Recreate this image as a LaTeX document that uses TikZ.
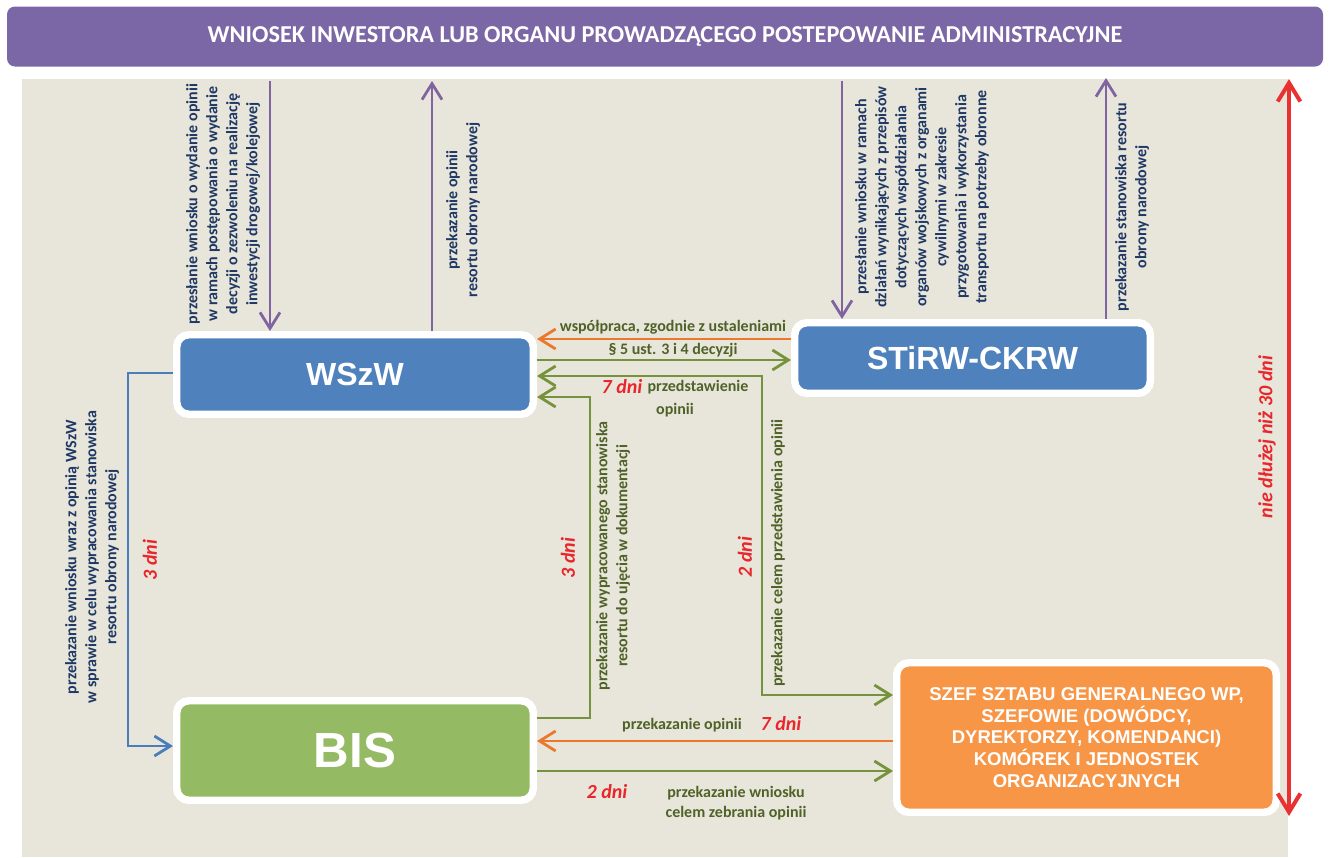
\documentclass[tikz,border=0pt]{standalone}
\usepackage{fontspec}
\setmainfont{Carlito}
\newfontfamily\arialfont{Liberation Sans}
\usetikzlibrary{arrows.meta}
\definecolor{banner}{RGB}{123,103,165}
\definecolor{panel}{RGB}{232,230,219}
\definecolor{boxblue}{RGB}{79,129,189}
\definecolor{boxgreen}{RGB}{148,187,100}
\definecolor{boxorange}{RGB}{247,150,70}
\definecolor{arrpurple}{RGB}{128,100,162}
\definecolor{arrorange}{RGB}{235,120,45}
\definecolor{arrgreen}{RGB}{118,146,60}
\definecolor{arrblue}{RGB}{74,126,187}
\definecolor{arrred}{RGB}{232,50,50}
\definecolor{txtnavy}{RGB}{31,56,100}
\definecolor{txtgreen}{RGB}{79,98,40}
\definecolor{txtred}{RGB}{232,38,43}
\begin{document}
\begin{tikzpicture}[x=0.75pt,y=-0.75pt,
  box/.style={draw=white, line width=5.6pt, rounded corners=9pt, text=white, inner sep=0pt, font=\arialfont\bfseries},
  tip/.style={-{Straight Barb[length=12pt,width=15pt]}},
  conn/.style={line width=2.1pt, tip},
  lab/.style={font=\bfseries\fontsize{12}{15}\selectfont, align=center, inner sep=0pt},
  navylab/.style={lab, text=txtnavy},
  greenlab/.style={lab, text=txtgreen},
  day/.style={font=\bfseries\itshape\fontsize{15}{18}\selectfont, text=txtred, inner sep=0pt}]
\useasboundingbox (0,0) rectangle (1330,857);
\fill[white] (0,0) rectangle (1330,857);
% panel
\fill[panel] (22,79) rectangle (1288,857);
% banner
\node[fill=banner, rounded corners=6pt, minimum width=1316*0.75pt, minimum height=60*0.75pt, inner sep=0pt,
  text=white, font=\bfseries\fontsize{18.2}{21}\selectfont] (banner) at (665,36.5)
  {WNIOSEK INWESTORA LUB ORGANU PROWADZĄCEGO POSTEPOWANIE ADMINISTRACYJNE};
% boxes
\node[box, fill=boxblue, minimum width=356.5*0.75pt, minimum height=79.5*0.75pt, font=\arialfont\bfseries\fontsize{24}{28}\selectfont] (wszw) at (355,374.5) {WSzW};
\node[box, fill=boxblue, minimum width=355.5*0.75pt, minimum height=70.5*0.75pt, font=\arialfont\bfseries\fontsize{24}{28}\selectfont] (stirw) at (972.5,358) {STiRW-CKRW};
\node[box, fill=boxgreen, minimum width=356.5*0.75pt, minimum height=99.5*0.75pt, font=\arialfont\bfseries\fontsize{37}{42}\selectfont] (bis) at (355,750.5) {BIS};
\node[box, fill=boxorange, minimum width=379.5*0.75pt, minimum height=149.5*0.75pt, align=center, font=\arialfont\bfseries\fontsize{13.9}{16.3}\selectfont] (szef) at (1086.5,737.5)
  {SZEF SZTABU GENERALNEGO WP,\\SZEFOWIE (DOWÓDCY,\\DYREKTORZY, KOMENDANCI)\\KOMÓREK I JEDNOSTEK\\ORGANIZACYJNYCH};
% free ends at the top
\coordinate (pa) at (270,81);
\coordinate (pb) at (432,81);
\coordinate (pc) at (842,81);
\coordinate (pd) at (1106,78);
% purple arrows
\draw[conn, arrpurple] (pa) -- (pa |- wszw.north);
\draw[conn, arrpurple] (pb |- wszw.north) -- (pb);
\draw[conn, arrpurple] (pc) -- (pc |- stirw.north);
\draw[conn, arrpurple] (pd |- stirw.north) -- (pd);
% between WSzW and STiRW
\draw[conn, arrorange] (stirw.west |- 0,339) -- (wszw.east |- 0,339);
\draw[conn, arrgreen] (wszw.east |- 0,360) -- (stirw.west |- 0,360);
% double headed green from WSzW to SZEF
\draw[line width=2.1pt, arrgreen, {Straight Barb[length=12pt,width=15pt]}-{Straight Barb[length=12pt,width=15pt]}]
  (wszw.east |- 0,376) -- (762,376) -- (762,695) -- (szef.west |- 0,695);
% BIS to WSzW
\draw[conn, arrgreen] (bis.east |- 0,718) -| (590,397) -- (wszw.east |- 0,397);
% WSzW to BIS (blue)
\draw[conn, arrblue] (wszw.west |- 0,373) -| (128,746) -- (bis.west |- 0,746);
% SZEF to BIS
\draw[conn, arrorange] (szef.west |- 0,741) -- (bis.east |- 0,741);
\draw[conn, arrgreen] (bis.east |- 0,771) -- (szef.west |- 0,771);
% red 30 days
\coordinate (ra) at (1289,79);
\coordinate (rb) at (1289,816);
\draw[line width=3pt, arrred, {Straight Barb[length=14pt,width=17pt]}-{Straight Barb[length=14pt,width=17pt]}] (ra) -- (rb);
\node[day, rotate=90] (t30) at (1267,437) {nie dłużej niż 30 dni};
% labels on the purple arrows
\node[navylab, rotate=90] (l1) at (223,204) {przesłanie wniosku o wydanie opinii\\w ramach postępowania o wydanie\\decyzji o zezwoleniu na realizację\\inwestycji drogowej/kolejowej};
\node[navylab, rotate=90] (l2) at (463,210) {przekazanie opinii\\resortu obrony narodowej};
\node[navylab, rotate=90] (l3) at (922,197) {przesłanie wniosku w ramach\\działań wynikających z przepisów\\dotyczących współdziałania\\organów wojskowych z organami\\cywilnymi w zakresie\\przygotowania i wykorzystania\\transportu na potrzeby obronne};
\node[navylab, rotate=90] (l4) at (1132,207) {przekazanie stanowiska resortu\\obrony narodowej};
% middle labels
\node[greenlab] (l5) at (673,327) {współpraca, zgodnie z ustaleniami};
\node[greenlab] (l6) at (673,350) {§ 5 ust. 3 i 4 decyzji};
\node[day] (d7a) at (622,387) {7 dni};
\node[greenlab] (l7) at (698,387) {przedstawienie};
\node[greenlab] (l8) at (675,410) {opinii};
\node[greenlab, rotate=90] (l9) at (613,556) {przekazanie wypracowanego stanowiska\\resortu do ujęcia w dokumentacji};
\node[day, rotate=90] (d3b) at (568,558) {3 dni};
\node[greenlab, rotate=90] (l10) at (778,553) {przekazanie celem przedstawienia opinii};
\node[day, rotate=90] (d2a) at (745,557) {2 dni};
% left
\node[navylab, rotate=90] (l11) at (92,557) {przekazanie wniosku wraz z opinią WSzW\\w sprawie w celu wypracowania stanowiska\\resortu obrony narodowej};
\node[day, rotate=90] (d3a) at (150,560) {3 dni};
% bottom
\node[greenlab] (l12) at (682,725) {przekazanie opinii};
\node[day] (d7b) at (781,724) {7 dni};
\node[day] (d2b) at (607,792) {2 dni};
\node[greenlab] (l13) at (736,803) {przekazanie wniosku\\celem zebrania opinii};
\end{tikzpicture}
\end{document}
